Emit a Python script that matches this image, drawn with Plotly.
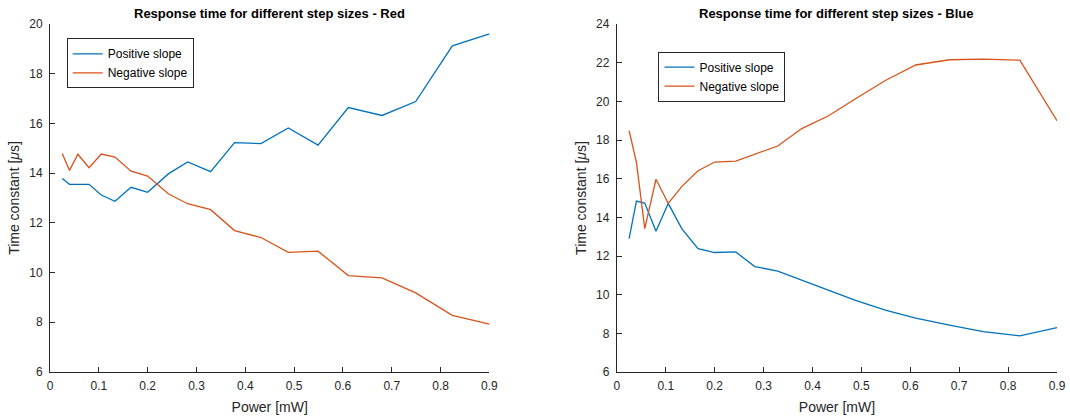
import plotly.graph_objects as go

# ---- data ----
power = [0.025, 0.04, 0.057, 0.08, 0.105, 0.133, 0.166, 0.2, 0.243, 0.282,
         0.329, 0.378, 0.432, 0.488, 0.549, 0.611, 0.68, 0.749, 0.824, 0.9]

red_pos = [13.78, 13.55, 13.55, 13.55, 13.12, 12.87, 13.43, 13.23, 13.98, 14.45,
           14.06, 15.23, 15.19, 15.82, 15.13, 16.64, 16.32, 16.88, 19.12, 19.6]
red_neg = [14.79, 14.11, 14.76, 14.22, 14.77, 14.65, 14.08, 13.88, 13.16, 12.77,
           12.53, 11.69, 11.41, 10.81, 10.86, 9.88, 9.79, 9.18, 8.28, 7.93]

blue_pos = [12.9, 14.84, 14.74, 13.28, 14.72, 13.4, 12.38, 12.18, 12.21, 11.45,
            11.22, 10.75, 10.2, 9.7, 9.2, 8.79, 8.42, 8.09, 7.87, 8.3]
blue_neg = [18.48, 16.85, 13.42, 15.97, 14.72, 15.6, 16.41, 16.86, 16.91, 17.28,
            17.69, 18.59, 19.24, 20.13, 21.08, 21.88, 22.15, 22.18, 22.13, 19.0]

series_names = ["Positive slope", "Negative slope"]
titles = ["Response time for different step sizes - Red",
          "Response time for different step sizes - Blue"]
x_ticks = [0, 0.1, 0.2, 0.3, 0.4, 0.5, 0.6, 0.7, 0.8, 0.9]
y_ticks_red = list(range(6, 21, 2))
y_ticks_blue = list(range(6, 25, 2))

# ---- style ----
C_POS = "#0072BD"
C_NEG = "#D95319"
AX = "#262626"
FONT = "Liberation Sans, Arial, Helvetica, sans-serif"

W, H = 1070, 419
AX_L, AX_R, AX_T, AX_B = 50, 1056.7, 24, 372   # axes box in window pixels
ML = AX_L
MR = W - AX_R
MT = AX_T
MB = H - AX_B
PW = W - ML - MR
PH = H - MT - MB


def px_x(p):
    return (p - AX_L) / PW


def px_y(p):
    return (AX_B - p) / PH


fig = go.Figure()

fig.add_trace(go.Scatter(x=power, y=red_pos, mode="lines", name=series_names[0],
                         line=dict(color=C_POS, width=1.3), xaxis="x", yaxis="y",
                         legend="legend"))
fig.add_trace(go.Scatter(x=power, y=red_neg, mode="lines", name=series_names[1],
                         line=dict(color=C_NEG, width=1.3), xaxis="x", yaxis="y",
                         legend="legend"))
fig.add_trace(go.Scatter(x=power, y=blue_pos, mode="lines", name=series_names[0],
                         line=dict(color=C_POS, width=1.3), xaxis="x2", yaxis="y2",
                         legend="legend2"))
fig.add_trace(go.Scatter(x=power, y=blue_neg, mode="lines", name=series_names[1],
                         line=dict(color=C_NEG, width=1.3), xaxis="x2", yaxis="y2",
                         legend="legend2"))

ydom = [0, 1]
xdom1 = [0, px_x(489.3)]
xdom2 = [px_x(616.7), 1]


def xaxis(dom, anchor):
    return dict(domain=dom, anchor=anchor, range=[0, 0.9], tickvals=x_ticks,
                ticktext=[("0" if v == 0 else f"{v:.1f}") for v in x_ticks],
                ticks="inside", ticklen=5, tickcolor=AX, showline=True,
                linecolor=AX, linewidth=1, showgrid=False, zeroline=False,
                automargin=False, ticklabelstandoff=3,
                tickfont=dict(size=12, color=AX, family=FONT),
                title=dict(text="Power [mW]", font=dict(size=14, color=AX, family=FONT),
                           standoff=9))


def yaxis(dom, anchor, rng, tv):
    return dict(domain=dom, anchor=anchor, range=rng, tickvals=tv,
                ticks="inside", ticklen=5, tickcolor=AX, showline=True,
                linecolor=AX, linewidth=1, showgrid=False, zeroline=False,
                automargin=False, ticklabelstandoff=4,
                tickfont=dict(size=12, color=AX, family=FONT),
                title=dict(text="Time constant [<i>μ</i>s]",
                           font=dict(size=14, color=AX, family=FONT), standoff=6))


leg_common = dict(bgcolor="white", bordercolor=AX, borderwidth=1,
                  font=dict(size=12, color="black", family=FONT),
                  xanchor="left", yanchor="top", tracegroupgap=0,
                  itemwidth=30)

fig.update_layout(
    width=W, height=H,
    margin=dict(l=ML, r=MR, t=MT, b=MB, autoexpand=False),
    paper_bgcolor="white", plot_bgcolor="white",
    showlegend=True,
    xaxis=xaxis(xdom1, "y"),
    yaxis=yaxis(ydom, "x", [6, 20], y_ticks_red),
    xaxis2=xaxis(xdom2, "y2"),
    yaxis2=yaxis(ydom, "x2", [6, 24], y_ticks_blue),
    legend=dict(x=px_x(66.7), y=px_y(38.3), **leg_common),
    legend2=dict(x=px_x(658.3), y=px_y(51.7), **leg_common),
    annotations=[
        dict(text=f"<b>{titles[0]}</b>", x=sum(xdom1) / 2, y=px_y(13.7),
             xref="paper", yref="paper", showarrow=False, xanchor="center",
             yanchor="middle", font=dict(size=13, color="black", family=FONT)),
        dict(text=f"<b>{titles[1]}</b>", x=sum(xdom2) / 2, y=px_y(13.7),
             xref="paper", yref="paper", showarrow=False, xanchor="center",
             yanchor="middle", font=dict(size=13, color="black", family=FONT)),
    ],
)

# remove the page's default 8px body margin so the figure fills the window
fig.write_html("out.html",
               config={"displayModeBar": False},
               post_script="document.body.style.margin='0';document.body.style.overflow='hidden';")
